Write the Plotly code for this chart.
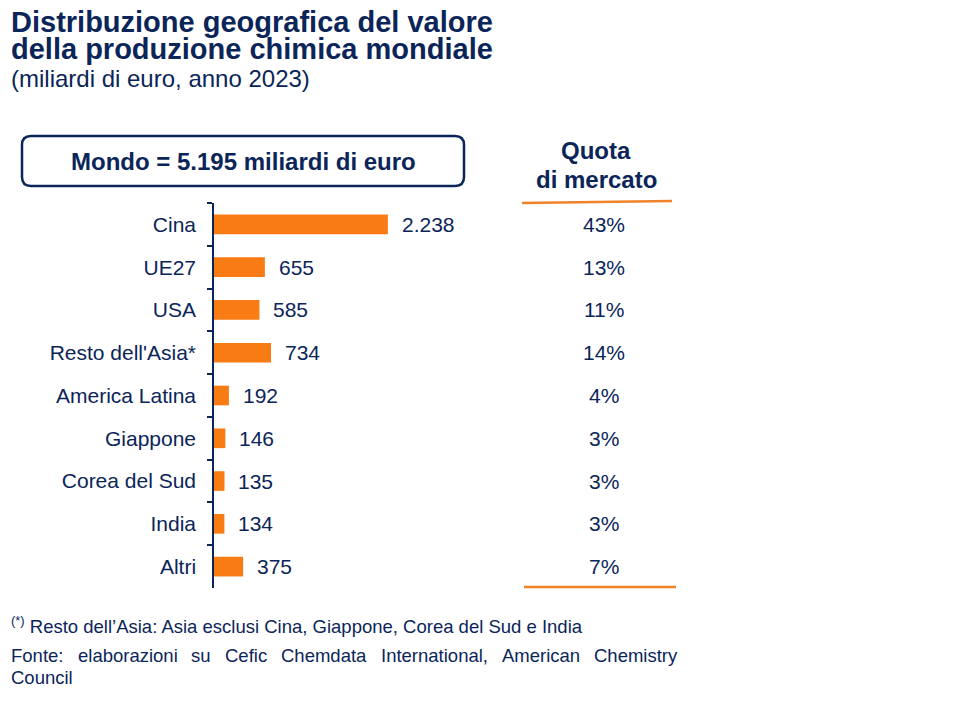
import plotly.graph_objects as go

categories = ["Cina", "UE27", "USA", "Resto dell'Asia*", "America Latina",
              "Giappone", "Corea del Sud", "India", "Altri"]
values = [2238, 655, 585, 734, 192, 146, 135, 134, 375]
shares = [43, 13, 11, 14, 4, 3, 3, 3, 7]
world_total = "5.195"

NAVY = "#0B2559"
ORANGE = "#F97B14"
LINE_ORANGE = "#F0822A"
FONT = "Liberation Sans, Arial, sans-serif"

W, H = 960, 720
OFF = 8  # page body margin offset
def px(x):
    return (x - OFF) / W
def py(y):
    return 1 - (y - OFF) / H

# plot area (pixels in the screenshot)
L, R, T, B = 214, 960, 203, 588
scale = 172 / 2238  # px per unit
xmax = (R - L) / scale

fig = go.Figure()
fig.add_trace(go.Bar(
    x=values, y=categories, orientation="h",
    marker=dict(color=ORANGE, line=dict(width=0)),
    hoverinfo="x+y",
))

annotations = []
for c, v in zip(categories, values):
    annotations.append(dict(
        x=v, y=c, xref="x", yref="y", text=f"{v:,}".replace(",", "."),
        xanchor="left", yanchor="middle", xshift=12, showarrow=False,
        font=dict(family=FONT, size=21, color=NAVY)))
for c, s in zip(categories, shares):
    annotations.append(dict(
        x=px(604), y=c, xref="paper", yref="y", text=f"{s}%",
        xanchor="center", yanchor="middle", showarrow=False,
        font=dict(family=FONT, size=21, color=NAVY)))

def txt(x, y, text, size, bold=False, xanchor="left"):
    return dict(x=px(x), y=py(y), xref="paper", yref="paper", xanchor=xanchor,
                yanchor="middle", text=f"<b>{text}</b>" if bold else text,
                showarrow=False, font=dict(family=FONT, size=size, color=NAVY))

annotations += [
    txt(9, 22, "Distribuzione geografica del valore", 29, bold=True),
    txt(9, 49, "della produzione chimica mondiale", 29, bold=True),
    txt(9, 79, "(miliardi di euro, anno 2023)", 24),
    txt(243, 161, f"Mondo = {world_total} miliardi di euro", 24, bold=True, xanchor="center"),
    txt(596, 151, "Quota", 24, bold=True, xanchor="center"),
    txt(596, 179, "di mercato", 24, bold=True, xanchor="center"),
    txt(9, 625, "<sup>(*)</sup> Resto dell\u2019Asia: Asia esclusi Cina, Giappone, Corea del Sud e India", 18.5),
    txt(9, 677, "Council", 18.5),
]
# justified source line (words spread between x=9 and x=675)
src_words = ["Fonte:", "elaborazioni", "su", "Cefic", "Chemdata", "International,",
             "American", "Chemistry"]
src_x = [9, 75.5, 189.3, 222.9, 279.1, 378.5, 499.5, 591.7]
for w, x in zip(src_words, src_x):
    annotations.append(txt(x, 655, w, 18.5))

# rounded box path
x0, x1, y0, y1, r = 22, 464, 136, 186, 9
rx, ry = r / W, r / H
X0, X1, Y0, Y1 = px(x0), px(x1), py(y0), py(y1)
path = (f"M {X0+rx},{Y0} L {X1-rx},{Y0} Q {X1},{Y0} {X1},{Y0-ry} "
        f"L {X1},{Y1+ry} Q {X1},{Y1} {X1-rx},{Y1} "
        f"L {X0+rx},{Y1} Q {X0},{Y1} {X0},{Y1+ry} "
        f"L {X0},{Y0-ry} Q {X0},{Y0} {X0+rx},{Y0} Z")
shapes = [
    dict(type="path", path=path, xref="paper", yref="paper",
         line=dict(color=NAVY, width=2.5), fillcolor="rgba(0,0,0,0)"),
    dict(type="line", xref="paper", yref="paper", x0=px(522), x1=px(672), y0=py(203), y1=py(201),
         line=dict(color=LINE_ORANGE, width=2.5)),
    dict(type="line", xref="paper", yref="paper", x0=px(524), x1=px(676), y0=py(587), y1=py(587),
         line=dict(color=LINE_ORANGE, width=2.5)),
]

fig.update_layout(
    width=W, height=H,
    margin=dict(l=0, r=0, t=0, b=0),
    paper_bgcolor="white", plot_bgcolor="white",
    showlegend=False, bargap=0.54,
    annotations=annotations, shapes=shapes,
    font=dict(family=FONT, color=NAVY),
    xaxis=dict(domain=[px(L), 1], range=[0, xmax], visible=False, fixedrange=True),
    yaxis=dict(domain=[py(B), py(T)], autorange="reversed", type="category",
               showline=True, linecolor=NAVY, linewidth=1.5,
               ticks="outside", tickson="boundaries", ticklen=5, tickcolor=NAVY, tickwidth=1.5,
               showgrid=False, automargin=False, ticklabelstandoff=12,
               tickfont=dict(family=FONT, size=21, color=NAVY)),
)

fig.write_html("out.html")
